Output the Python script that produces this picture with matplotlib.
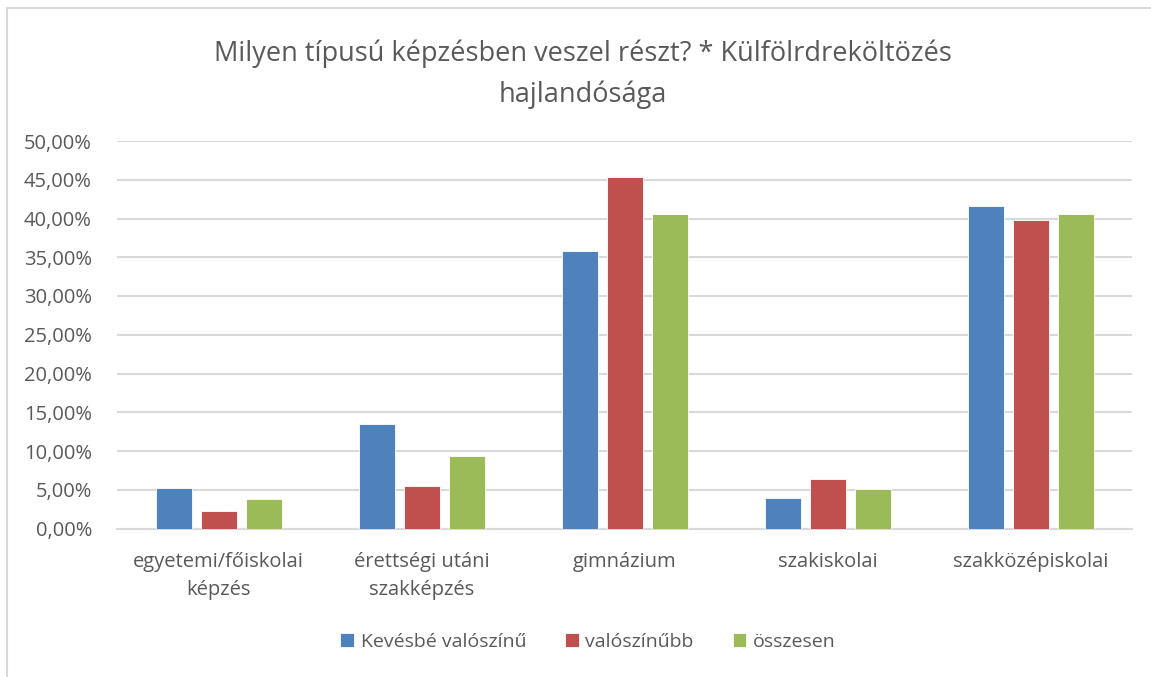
import numpy as np
import matplotlib.pyplot as plt
from matplotlib.patches import Rectangle
from matplotlib.ticker import FuncFormatter

categories = ["egyetemi/főiskolai\nképzés", "érettségi utáni\nszakképzés",
              "gimnázium", "szakiskolai", "szakközépiskolai"]
series_names = ["Kevésbé valószínű", "valószínűbb", "összesen"]
kevesbe = [5.2, 13.5, 35.8, 3.9, 41.55]
valoszinubb = [2.25, 5.45, 45.3, 6.35, 39.8]
osszesen = [3.75, 9.35, 40.6, 5.1, 40.6]
colors = ["#4f81bd", "#c0504d", "#9bbb59"]

plt.rcParams["font.family"] = ["Open Sans", "DejaVu Sans"]

fig = plt.figure(figsize=(11.51, 6.77), dpi=100)
ax = fig.add_axes([117 / 1151, 1 - 528.5 / 677, (1132 - 117) / 1151, (528.5 - 141) / 677])

x = np.arange(len(categories))
width = 36 / 203
step = 45 / 203
for i, (vals, name) in enumerate(zip([kevesbe, valoszinubb, osszesen], series_names)):
    ax.bar(x + (i - 1) * step, vals, width, color=colors[i], label=name,
           edgecolor="white", linewidth=0.6, zorder=3)

ax.set_xlim(-0.5, len(categories) - 0.5)
ax.set_ylim(0, 50)
ax.set_yticks(np.arange(0, 51, 5))
ax.yaxis.set_major_formatter(FuncFormatter(lambda v, p: f"{v:.2f}%".replace(".", ",")))
ax.set_xticks(x)
ax.set_xticklabels(categories, linespacing=1.55)
ax.grid(axis="y", color="#d9d9d9", linewidth=1.5, zorder=0)
for s in ["top", "right", "left"]:
    ax.spines[s].set_visible(False)
ax.spines["bottom"].set_color("#d9d9d9")
ax.spines["bottom"].set_linewidth(1.5)
ax.tick_params(axis="both", length=0, labelsize=14.5, colors="#595959")
ax.tick_params(axis="y", pad=18)
ax.tick_params(axis="x", pad=17)

fig.suptitle("Milyen típusú képzésben veszel részt? * Külfölrdreköltözés\nhajlandósága",
             x=583 / 1151, y=1 - 39 / 677, fontsize=19.5, color="#595959", va="top",
             linespacing=1.6)

fig.legend(loc="center", bbox_to_anchor=(588 / 1151, 1 - 642 / 677), ncol=3,
           frameon=False, fontsize=14, labelcolor="#595959", handlelength=0.7,
           handleheight=0.7, handletextpad=0.35, columnspacing=2.0)

fig.patches.append(Rectangle((7.5 / 1151, -0.1), 1.2, 1.1 - 7.5 / 677,
                             transform=fig.transFigure, fill=False,
                             edgecolor="#d9d9d9", linewidth=1.5))

fig.savefig("out.png", dpi=100)
